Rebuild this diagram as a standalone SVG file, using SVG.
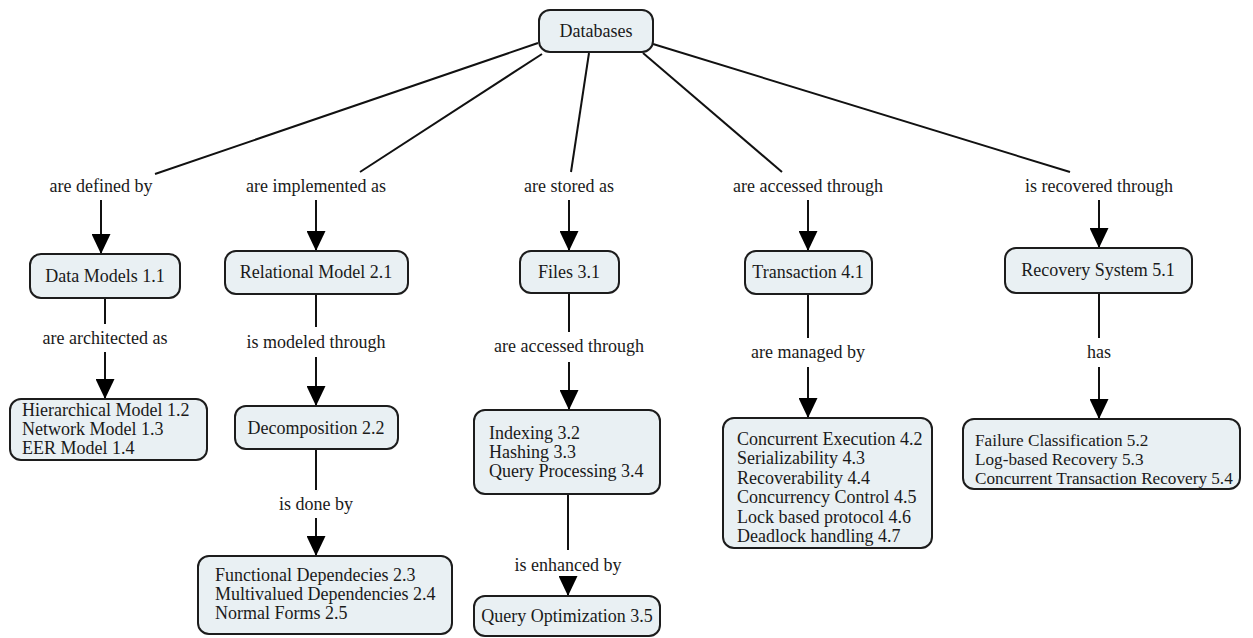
<svg xmlns="http://www.w3.org/2000/svg" width="1253" height="638" viewBox="0 0 1253 638">
  <style>
    .box { fill: #e9f0f3; stroke: #1c1c1c; stroke-width: 2; }
    .t { font-family: "Liberation Serif", "Times New Roman", serif; font-size: 18px; fill: #1a1a1a; }
    .s { font-size: 17.2px; }
    .c { text-anchor: middle; }
    .edge { stroke: #111; stroke-width: 2; fill: none; }
    .arr { marker-end: url(#head); }
  </style>
  <defs>
    <marker id="head" markerUnits="userSpaceOnUse" viewBox="0 0 20 19" markerWidth="20" markerHeight="19" refX="20" refY="9.5" orient="auto">
      <path d="M0,0 L20,9.5 L0,19 Z" fill="#000"/>
    </marker>
  </defs>

  <rect width="1253" height="638" fill="#ffffff"/>

  <!-- connectors and their labels -->
  <g id="connectors">
    <line class="edge" x1="538" y1="43" x2="155" y2="174"/>
    <line class="edge" x1="542" y1="54" x2="360" y2="172"/>
    <line class="edge" x1="589" y1="53" x2="571" y2="172"/>
    <line class="edge" x1="643" y1="53" x2="782" y2="172"/>
    <line class="edge" x1="653" y1="44" x2="1070" y2="172"/>

    <text class="t c" x="101" y="192">are defined by</text>
    <text class="t c" x="316" y="192">are implemented as</text>
    <text class="t c" x="569" y="192">are stored as</text>
    <text class="t c" x="808" y="192">are accessed through</text>
    <text class="t c" x="1099" y="192">is recovered through</text>

    <line class="edge arr" x1="101" y1="200" x2="101" y2="254"/>
    <line class="edge arr" x1="316" y1="200" x2="316" y2="251"/>
    <line class="edge arr" x1="569" y1="200" x2="569" y2="251"/>
    <line class="edge arr" x1="808" y1="200" x2="808" y2="251"/>
    <line class="edge arr" x1="1099" y1="200" x2="1099" y2="248"/>

    <!-- Data Models -> architectures -->
    <line class="edge" x1="105" y1="299" x2="105" y2="324"/>
    <text class="t c" x="105" y="344">are architected as</text>
    <line class="edge arr" x1="105" y1="352" x2="105" y2="399"/>

    <!-- Relational Model -> Decomposition -->
    <line class="edge" x1="316" y1="295" x2="316" y2="327"/>
    <text class="t c" x="316" y="348">is modeled through</text>
    <line class="edge arr" x1="316" y1="357" x2="316" y2="406"/>

    <!-- Files -> access methods -->
    <line class="edge" x1="569" y1="294" x2="569" y2="332"/>
    <text class="t c" x="569" y="352">are accessed through</text>
    <line class="edge arr" x1="569" y1="362" x2="569" y2="410"/>

    <!-- Transaction -> management -->
    <line class="edge" x1="808" y1="295" x2="808" y2="338"/>
    <text class="t c" x="808" y="358">are managed by</text>
    <line class="edge arr" x1="808" y1="367" x2="808" y2="418"/>

    <!-- Recovery System -> parts -->
    <line class="edge" x1="1099" y1="294" x2="1099" y2="338"/>
    <text class="t c" x="1099" y="358">has</text>
    <line class="edge arr" x1="1099" y1="367" x2="1099" y2="419"/>

    <!-- Decomposition -> dependencies -->
    <line class="edge" x1="316" y1="450" x2="316" y2="490"/>
    <text class="t c" x="316" y="510">is done by</text>
    <line class="edge arr" x1="316" y1="518" x2="316" y2="556"/>

    <!-- Access methods -> optimization -->
    <line class="edge" x1="568" y1="495" x2="568" y2="550"/>
    <text class="t c" x="568" y="571">is enhanced by</text>
    <line class="edge arr" x1="568" y1="577" x2="568" y2="596"/>
  </g>

  <g id="databases">
    <rect class="box" x="539" y="10" width="114" height="42" rx="11"/>
    <text class="t c" x="596" y="37">Databases</text>
  </g>

  <g id="data-models">
    <rect class="box" x="30" y="254" width="150" height="44" rx="11"/>
    <text class="t c" x="105" y="282">Data Models 1.1</text>
  </g>

  <g id="relational-model">
    <rect class="box" x="225" y="251" width="183" height="43" rx="11"/>
    <text class="t c" x="316" y="278">Relational Model 2.1</text>
  </g>

  <g id="files">
    <rect class="box" x="520" y="251" width="99" height="42" rx="11"/>
    <text class="t c" x="569" y="278">Files 3.1</text>
  </g>

  <g id="transaction">
    <rect class="box" x="745" y="251" width="127" height="43" rx="11"/>
    <text class="t c" x="808" y="278">Transaction 4.1</text>
  </g>

  <g id="recovery-system">
    <rect class="box" x="1005" y="248" width="187" height="45" rx="11"/>
    <text class="t c" x="1098" y="276">Recovery System 5.1</text>
  </g>

  <g id="model-kinds">
    <rect class="box" x="10" y="399" width="197" height="61" rx="11"/>
    <text class="t" x="22" y="416">Hierarchical Model 1.2</text>
    <text class="t" x="22" y="435">Network Model 1.3</text>
    <text class="t" x="22" y="454">EER Model 1.4</text>
  </g>

  <g id="decomposition">
    <rect class="box" x="235" y="406" width="163" height="43" rx="11"/>
    <text class="t c" x="316" y="434">Decomposition 2.2</text>
  </g>

  <g id="access-methods">
    <rect class="box" x="474" y="410" width="186" height="84" rx="11"/>
    <text class="t" x="489" y="439">Indexing 3.2</text>
    <text class="t" x="489" y="458">Hashing 3.3</text>
    <text class="t" x="489" y="477">Query Processing 3.4</text>
  </g>

  <g id="transaction-topics">
    <rect class="box" x="723" y="418" width="209" height="130" rx="11"/>
    <text class="t" x="737" y="445">Concurrent Execution 4.2</text>
    <text class="t" x="737" y="464">Serializability 4.3</text>
    <text class="t" x="737" y="484">Recoverability 4.4</text>
    <text class="t" x="737" y="503">Concurrency Control 4.5</text>
    <text class="t" x="737" y="523">Lock based protocol 4.6</text>
    <text class="t" x="737" y="542">Deadlock handling 4.7</text>
  </g>

  <g id="recovery-topics">
    <rect class="box" x="963" y="419" width="277" height="70" rx="11"/>
    <text class="t s" x="975" y="446">Failure Classification 5.2</text>
    <text class="t s" x="975" y="465">Log-based Recovery 5.3</text>
    <text class="t s" x="975" y="484">Concurrent Transaction Recovery 5.4</text>
  </g>

  <g id="dependencies">
    <rect class="box" x="198" y="556" width="254" height="78" rx="11"/>
    <text class="t" x="215" y="581">Functional Dependecies 2.3</text>
    <text class="t" x="215" y="600">Multivalued Dependencies 2.4</text>
    <text class="t" x="215" y="619">Normal Forms 2.5</text>
  </g>

  <g id="query-optimization">
    <rect class="box" x="474" y="596" width="186" height="40" rx="11"/>
    <text class="t c" x="567" y="622">Query Optimization 3.5</text>
  </g>
</svg>
